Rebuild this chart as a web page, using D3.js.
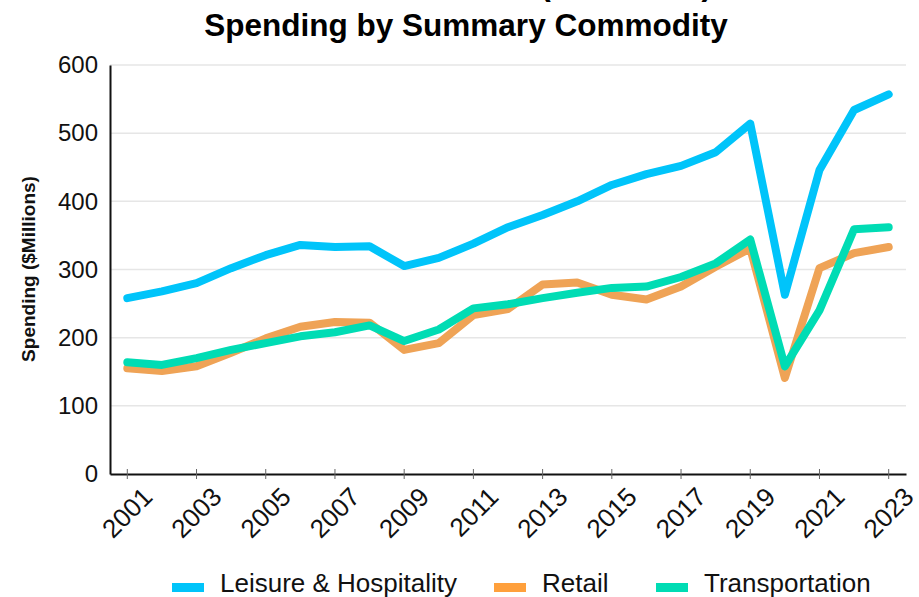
<!DOCTYPE html>
<html>
<head>
<meta charset="utf-8">
<script src="https://cdn.jsdelivr.net/npm/d3@7"></script>
<style>
  html, body { margin: 0; padding: 0; background: #fff; }
  svg { display: block; font-family: "Liberation Sans", Arial, sans-serif; }
</style>
</head>
<body>
<svg id="chart" width="919" height="597"></svg>
<script>
const years = [2001,2002,2003,2004,2005,2006,2007,2008,2009,2010,2011,2012,2013,2014,2015,2016,2017,2018,2019,2020,2021,2022,2023];
const leisure = [258,268,280,302,321,336,333,334,305,317,338,362,380,400,424,440,452,472,514,263,446,534,557];
const retail = [155,151,158,178,199,216,223,222,182,192,233,242,278,281,263,256,275,304,331,141,302,324,333];
const transportation = [164,160,170,182,192,202,208,218,195,212,243,249,258,266,273,275,289,309,344,158,240,359,362];
const seriesNames = ["Leisure & Hospitality","Retail","Transportation"];
const lineColors = ["#00C4FA","#EFA356","#00DCB4"];
const legendColors = ["#00C4FA","#FFA03C","#00DCB4"];
const yTicks = [0,100,200,300,400,500,600];
const xTickYears = years.filter(y => y % 2 === 1);

const svg = d3.select("#chart");
const margin = {left:110, right:13, top:65, bottom:123};
const W = 919, H = 597;
const x = d3.scaleBand().domain(years).range([margin.left, W - margin.right]).padding(0);
const y = d3.scaleLinear().domain([0,600]).range([H - margin.bottom, margin.top]);
const cx = d => x(d) + x.bandwidth()/2;

// Titles
svg.append("text").attr("x", 712).attr("y", -5).attr("text-anchor","end")
  .attr("font-weight","bold").attr("font-size",31.5).attr("fill","#000")
  .text("Visitor Totals (2001-2023)");
svg.append("text").attr("x", 466).attr("y", 36).attr("text-anchor","middle")
  .attr("font-weight","bold").attr("font-size",31.5).attr("fill","#000")
  .text("Spending by Summary Commodity");

// gridlines
svg.append("g").selectAll("line").data(yTicks.filter(t => t>0)).join("line")
  .attr("x1", margin.left).attr("x2", W - margin.right)
  .attr("y1", d => y(d)).attr("y2", d => y(d))
  .attr("stroke","#e6e6e6").attr("stroke-width",1.5);

// y axis
const yAxis = svg.append("g").attr("transform",`translate(${margin.left},0)`)
  .call(d3.axisLeft(y).tickValues(yTicks).tickSize(0).tickPadding(12));
yAxis.select(".domain").attr("stroke","#111").attr("stroke-width",2);
yAxis.selectAll("text").attr("font-size",24).attr("fill","#111")
  .attr("font-family","'Liberation Sans', Arial, sans-serif");

// x axis
const xAxis = svg.append("g").attr("transform",`translate(0,${y(0)})`)
  .call(d3.axisBottom(x).tickValues(xTickYears).tickSize(5).tickSizeOuter(0).tickPadding(8));
xAxis.select(".domain").attr("stroke","#111").attr("stroke-width",2);
xAxis.selectAll(".tick line").attr("stroke","#666").attr("y1",-5).attr("y2",5);
xAxis.selectAll("text").attr("font-size",26).attr("fill","#111")
  .attr("font-family","'Liberation Sans', Arial, sans-serif")
  .attr("text-anchor","end").attr("dy","0.35em")
  .attr("transform","translate(11,9) rotate(-45)");

// y axis title
svg.append("text").attr("transform","translate(35,269) rotate(-90)")
  .attr("text-anchor","middle").attr("font-weight","bold").attr("font-size",19)
  .attr("fill","#111").text("Spending ($Millions)");

// lines
const allSeries = [leisure, retail, transportation];
const line = d3.line().x((d,i) => cx(years[i])).y(d => y(d));
svg.append("g").selectAll("path").data(allSeries).join("path")
  .attr("d", d => line(d)).attr("fill","none")
  .attr("stroke",(d,i) => lineColors[i]).attr("stroke-width",8)
  .attr("stroke-linejoin","round").attr("stroke-linecap","round");

// legend
const legendX = [172, 494, 656];
const lg = svg.append("g");
seriesNames.forEach((n,i) => {
  lg.append("rect").attr("x", legendX[i]).attr("y", 583).attr("width", 32).attr("height", 9)
    .attr("fill", legendColors[i]);
  lg.append("text").attr("x", legendX[i] + 48).attr("y", 592).attr("font-size",26)
    .attr("fill","#111").text(n);
});
</script>
</body>
</html>
